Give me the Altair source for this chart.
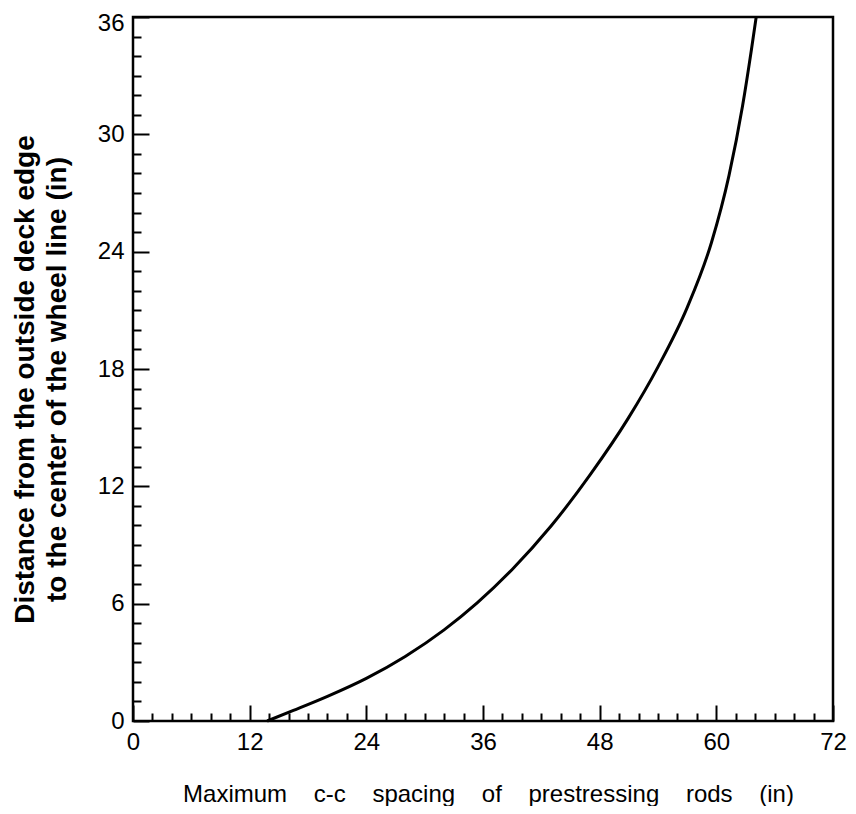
import altair as alt
import pandas as pd

# Curve (x: max c-c spacing, y: distance to wheel line), inches
spacing = [13.8, 16.5, 20.0, 24.0, 28.0, 32.0, 35.4, 39.0, 43.0, 47.1, 50.9, 54.0, 57.0, 59.5, 61.3, 62.7, 63.6, 64.1]
distance = [0.0, 0.54, 1.26, 2.18, 3.30, 4.66, 6.04, 7.75, 9.97, 12.65, 15.45, 18.11, 21.14, 24.47, 27.89, 31.46, 34.3, 36.0]

x_labels = [0, 12, 24, 36, 48, 60, 72]
y_labels = [0, 6, 12, 18, 24, 30, 36]
x_ticks = list(range(0, 73, 2))
y_ticks = list(range(0, 37, 1))

x_title = "\u00a0\u00a0\u00a0\u00a0".join(
    ["Maximum", "c-c", "spacing", "of", "prestressing", "rods", "(in)"])
y_title = ["Distance from the outside deck edge", "to the center of the wheel line (in)"]

df = pd.DataFrame({"spacing": spacing, "distance": distance})

W, H = 700, 704
FONT = "Liberation Sans"

xscale = alt.Scale(domain=[0, 72], nice=False, zero=False)
yscale = alt.Scale(domain=[0, 36], nice=False, zero=False)

curve = alt.Chart(df).mark_line(
    color="black", strokeWidth=3, interpolate="monotone"
).encode(
    x=alt.X("spacing:Q", scale=xscale, axis=alt.Axis(
        orient="bottom", values=x_labels, ticks=False, domain=False, grid=False,
        labelFont=FONT, labelFontSize=24, labelColor="black", labelPadding=9,
        labelFlush=False,
        title=x_title, titleFont=FONT, titleFontSize=24, titleFontWeight="normal",
        titleColor="black", titleBaseline="alphabetic", titleY=80, titleX=355,
        titleAnchor="middle", titleAlign="center")),
    y=alt.Y("distance:Q", scale=yscale, axis=alt.Axis(
        orient="left", values=y_labels, ticks=False, domain=False, grid=False,
        labelFont=FONT, labelFontSize=24, labelColor="black", labelPadding=9,
        labelFlush=False,
        labelOffset={"condition": {"test": "datum.value === 36", "value": 6}, "value": 0},
        title=y_title, titleFont=FONT, titleFontSize=28, titleFontWeight="bold",
        titleColor="black", titleAngle=-90, titleBaseline="alphabetic",
        titleX=-100, titleY=362, titleAlign="center", titleLineHeight=32)),
    order="spacing:Q",
)

tick_layer = alt.Chart(df).mark_point(opacity=0).encode(
    x=alt.X("spacing:Q", scale=xscale, axis=alt.Axis(
        orient="top", offset=-H, values=x_ticks, labels=False, domain=False,
        grid=False, title=None, tickColor="black", tickWidth=2,
        tickSize={"condition": {"test": "datum.value % 12 === 0", "value": 16}, "value": 8})),
    y=alt.Y("distance:Q", scale=yscale, axis=alt.Axis(
        orient="right", offset=-W, values=y_ticks, labels=False, domain=False,
        grid=False, title=None, tickColor="black", tickWidth=2,
        tickSize={"condition": {"test": "datum.value % 6 === 0", "value": 16}, "value": 8})),
)

chart = alt.layer(curve, tick_layer).resolve_axis(
    x="independent", y="independent"
).properties(
    width=W, height=H,
    autosize=alt.AutoSizeParams(type="none"),
    padding={"left": 125, "top": 9, "right": 15, "bottom": 85},
).configure(
    background="white"
).configure_view(
    stroke="black", strokeWidth=2.5
)

chart.save("out.html", embed_options={"renderer": "svg", "actions": False})
